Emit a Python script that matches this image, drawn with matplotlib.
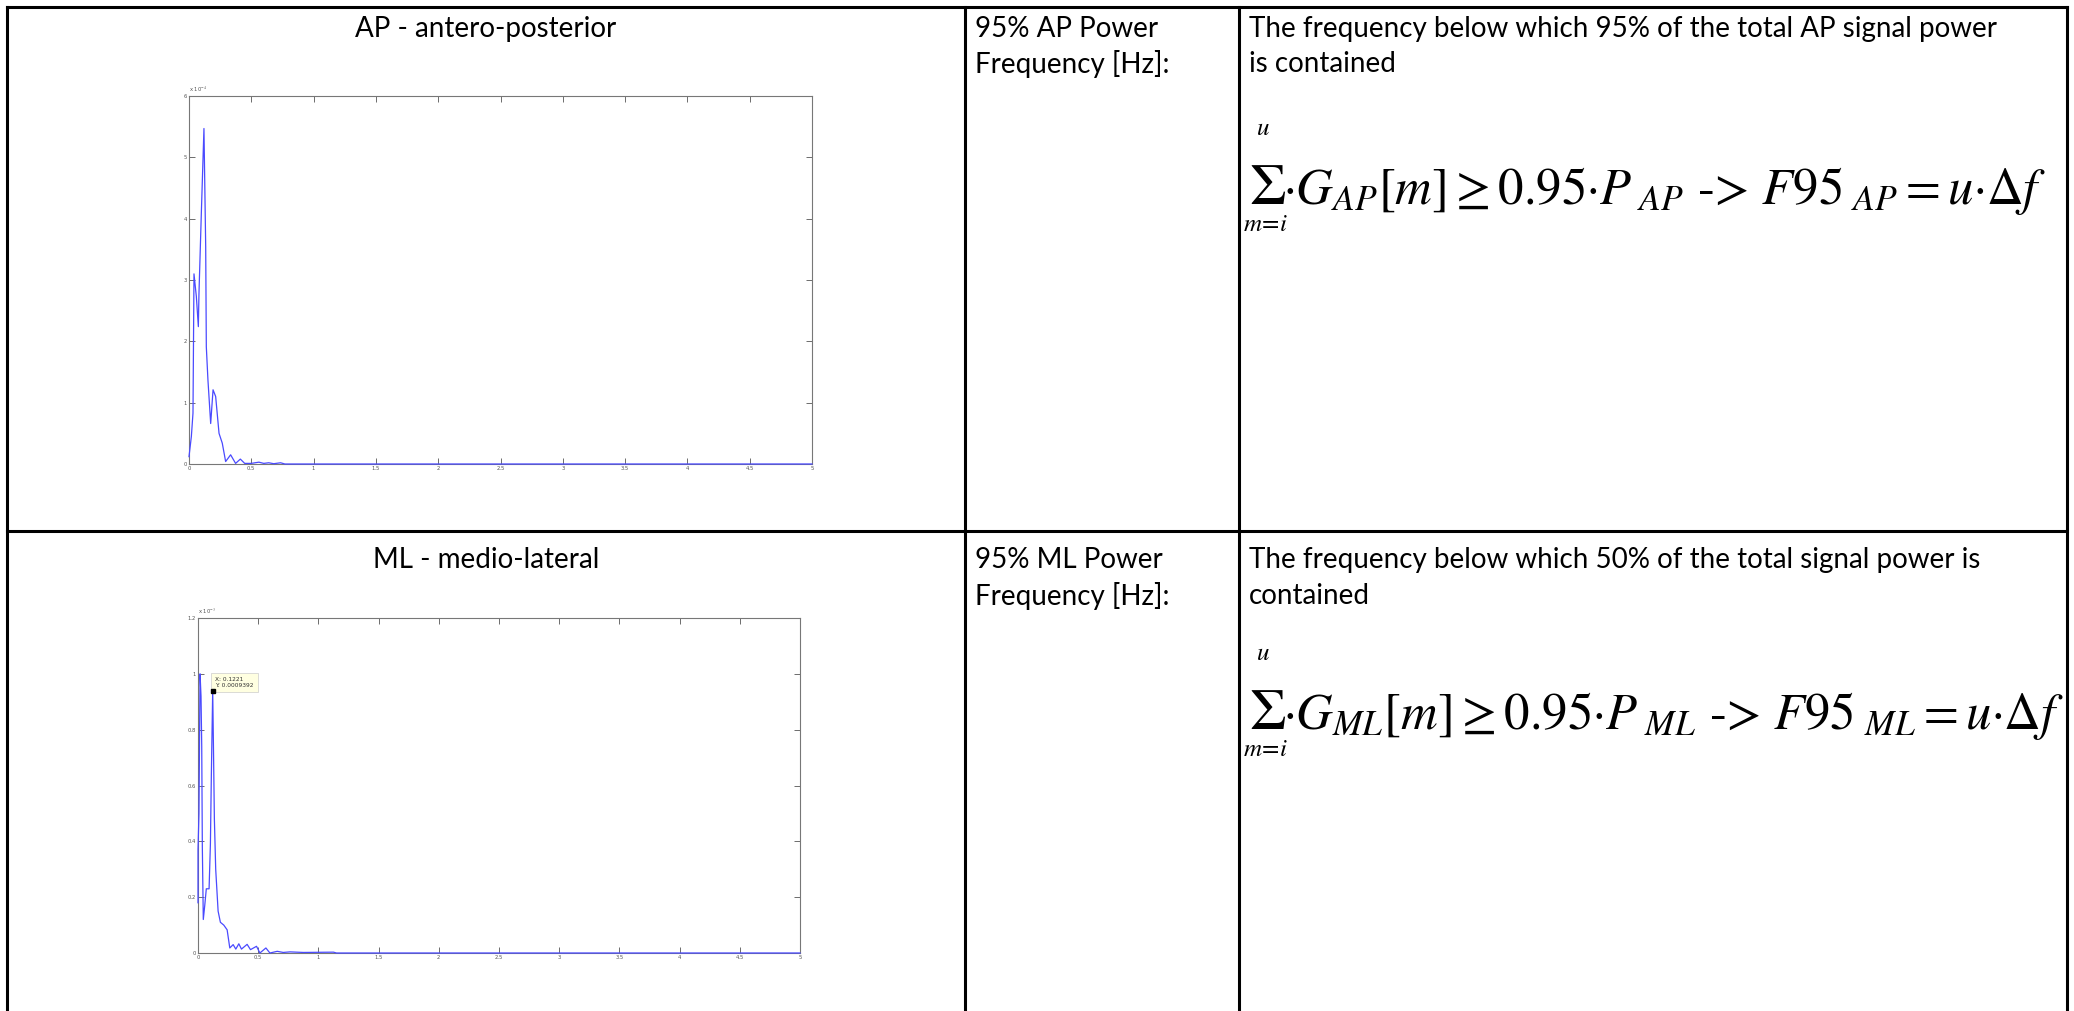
import matplotlib
matplotlib.use("Agg")
import matplotlib.pyplot as plt
from matplotlib.lines import Line2D

plt.rcParams['mathtext.fontset'] = 'stix'

W, H = 2074, 1011

# AP spectrum (power in units of 1e-4)
ap_freq = [0, 0.019, 0.032, 0.04, 0.059, 0.075, 0.08, 0.099, 0.12, 0.134, 0.139, 0.152,
           0.174, 0.193, 0.214, 0.241, 0.267, 0.294, 0.334, 0.374, 0.412, 0.447, 0.5,
           0.561, 0.6, 0.64, 0.68, 0.735, 0.77, 5.0]
ap_power = [0.12, 0.45, 0.83, 3.1, 2.73, 2.24, 2.78, 4.09, 5.47, 3.54, 1.91, 1.37,
            0.66, 1.21, 1.10, 0.5, 0.34, 0.04, 0.15, 0.01, 0.08, 0.01, 0.01,
            0.03, 0.01, 0.02, 0.005, 0.02, 0.0, 0.0]

# ML spectrum (power in units of 1e-3)
ml_freq = [0, 0.0, 0.008, 0.017, 0.025, 0.031, 0.036, 0.044, 0.056, 0.069, 0.092, 0.103,
           0.111, 0.1221, 0.128, 0.136, 0.147, 0.167, 0.186, 0.214, 0.242, 0.264, 0.292,
           0.314, 0.339, 0.361, 0.408, 0.436, 0.486, 0.514, 0.564, 0.597, 0.658, 0.708,
           0.764, 0.875, 1.125, 1.15, 5.0]
ml_power = [0.18, 0.37, 0.5, 1.0, 0.92, 0.74, 0.38, 0.12, 0.17, 0.23, 0.23, 0.39,
            0.64, 0.9392, 0.75, 0.48, 0.3, 0.15, 0.11, 0.10, 0.083, 0.018, 0.03,
            0.014, 0.033, 0.014, 0.031, 0.012, 0.024, 0.0, 0.018, 0.0, 0.006, 0.002,
            0.004, 0.002, 0.003, 0.0, 0.0]

tip_x, tip_y = 0.1221, 0.9392

x_ticks = [0, 0.5, 1, 1.5, 2, 2.5, 3, 3.5, 4, 4.5, 5]
x_labels = ['0', '0.5', '1', '1.5', '2', '2.5', '3', '3.5', '4', '4.5', '5']
ap_yticks = [0, 1, 2, 3, 4, 5, 6]
ml_yticks = [0, 0.2, 0.4, 0.6, 0.8, 1.0, 1.2]
ml_ylabels = ['0', '0.2', '0.4', '0.6', '0.8', '1', '1.2']

fig = plt.figure(figsize=(W / 100, H / 100), dpi=100)

# page layer in pixel coordinates
bg = fig.add_axes([0, 0, 1, 1])
bg.set_xlim(0, W)
bg.set_ylim(H, 0)
bg.axis('off')

lw_border = 2.2
for x in [7, 965, 1239, 2067]:
    bg.add_line(Line2D([x, x], [7, H], color='black', lw=lw_border))
for y in [7, 531]:
    bg.add_line(Line2D([7, 2067], [y, y], color='black', lw=lw_border))

txt = dict(family='Lato', fontsize=20, color='black', va='center')
bg.text(486, 29, 'AP - antero-posterior', ha='center', **txt)
bg.text(486, 560, 'ML - medio-lateral', ha='center', **txt)
bg.text(975, 29, '95% AP Power', ha='left', **txt)
bg.text(975, 64, 'Frequency [Hz]:', ha='left', **txt)
bg.text(975, 560, '95% ML Power', ha='left', **txt)
bg.text(975, 596, 'Frequency [Hz]:', ha='left', **txt)
bg.text(1249, 29, 'The frequency below which 95% of the total AP signal power', ha='left', **txt)
bg.text(1249, 64, 'is contained', ha='left', **txt)
bg.text(1249, 560, 'The frequency below which 50% of the total signal power is', ha='left', **txt)
bg.text(1249, 596, 'contained', ha='left', **txt)

dot = '\u00b7'


def equation(y_base, sub):
    main = (r'$' + dot + r'G_{' + sub + r'}[m] \geq 0.95' + dot + r'P_{\ ' + sub
            + r'}$ -> $\mathit{F95}_{\ ' + sub + r'} = u' + dot + r'\mathit{\Delta f}$')
    bg.text(1249, y_base, '\u03a3', ha='left', va='baseline', fontsize=42, family='STIXGeneral')
    bg.text(1283, y_base, main, ha='left', va='baseline', fontsize=36.5, family='STIXGeneral')
    bg.text(1263, y_base - 76, r'$u$', ha='center', va='center', fontsize=18)
    bg.text(1265, y_base + 20, r'$m\!=\!i$', ha='center', va='center', fontsize=18)


equation(204, 'AP')
equation(729, 'ML')


def pix_axes(x0, y0, x1, y1):
    return fig.add_axes([x0 / W, 1 - y1 / H, (x1 - x0) / W, (y1 - y0) / H])


def matlab_style(ax, yticks, ylabels, ymax, mult):
    ax.set_xlim(0, 5)
    ax.set_ylim(0, ymax)
    ax.set_xticks(x_ticks)
    ax.set_xticklabels(x_labels)
    ax.set_yticks(yticks)
    ax.set_yticklabels(ylabels)
    ax.tick_params(direction='in', length=4.5, width=0.6, colors='#555555',
                   labelsize=3.8, top=True, right=True, pad=1.5)
    for s in ax.spines.values():
        s.set_color('#777777')
        s.set_linewidth(0.8)
    ax.text(0.0, 1.004, r'x 10$^{%d}$' % mult, transform=ax.transAxes,
            fontsize=3.8, color='#555555', ha='left', va='bottom')


ax1 = pix_axes(189, 96, 812, 464)
ax1.plot(ap_freq, ap_power, color='#4a4aff', lw=0.9, clip_on=False, zorder=3)
matlab_style(ax1, ap_yticks, [str(v) for v in ap_yticks], 6, -4)

ax2 = pix_axes(198, 618, 800, 953)
ax2.plot(ml_freq, ml_power, color='#4a4aff', lw=0.9, clip_on=False, zorder=3)
matlab_style(ax2, ml_yticks, ml_ylabels, 1.2, -3)
ax2.plot([tip_x], [tip_y], marker='s', color='black', ms=2.6, zorder=4)
ax2.annotate('X: %.4f\nY: %.7f' % (tip_x, tip_y / 1000), (tip_x, tip_y),
             xytext=(2, 2), textcoords='offset points', fontsize=4.2,
             ha='left', va='bottom', color='#333333', linespacing=1.3,
             bbox=dict(boxstyle='square,pad=0.7', fc='#ffffe1', ec='#cccccc', lw=0.5))

fig.savefig('out.png', dpi=100)
